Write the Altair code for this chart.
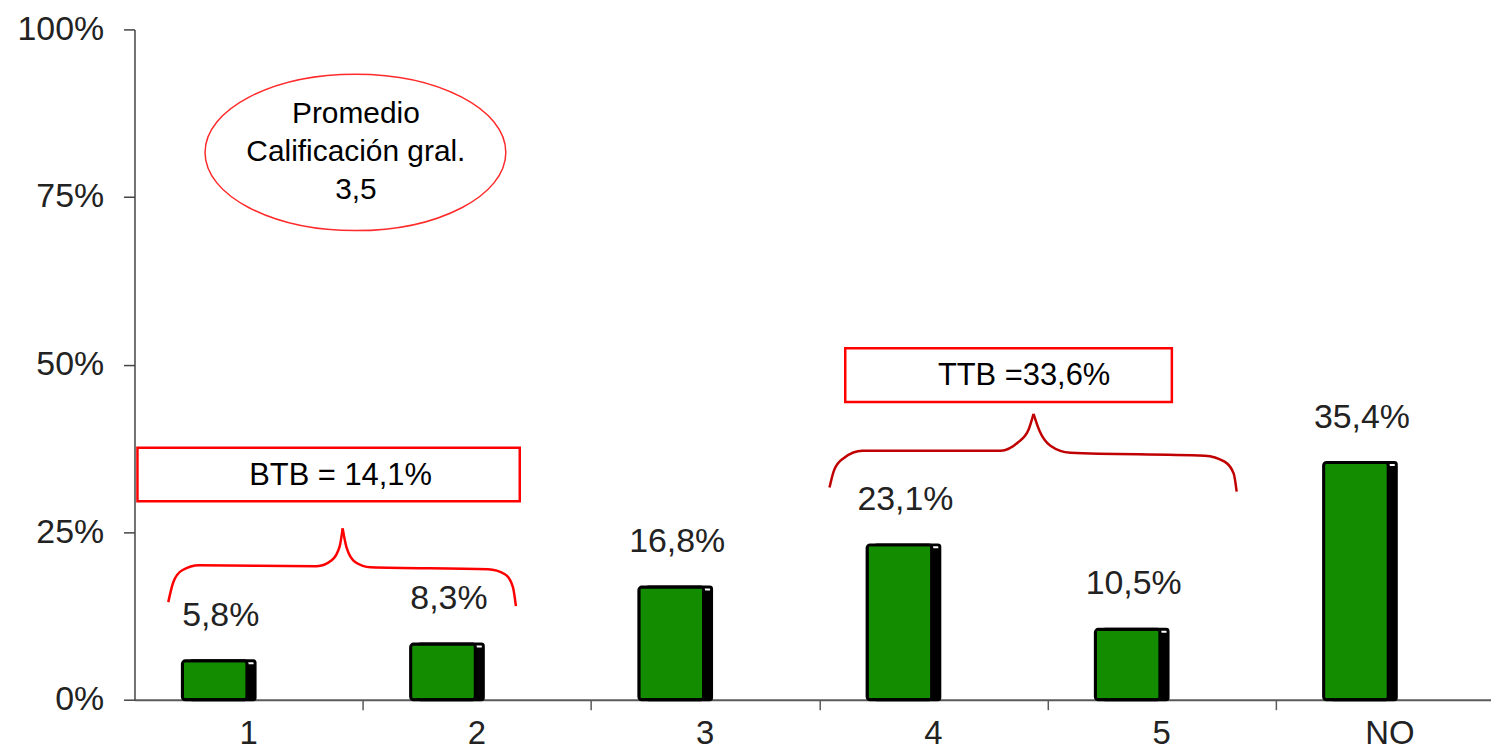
import altair as alt
import pandas as pd

# ---- data ----
categories = ["1", "2", "3", "4", "5", "NO"]
values = [0.058, 0.083, 0.168, 0.231, 0.105, 0.354]

# annotation coordinates: x in band units (0..6), y in share (0..1)
ellipse_x = [0.968]
ellipse_y = [0.8165]
ellipse_text_x = [0.970]
ellipse_text_y = [0.861]
ellipse_lines = ["Promedio", "Calificación gral.", "3,5"]

box_names = ["BTB", "TTB"]
box_x1 = [0.013, 3.114]
box_x2 = [1.688, 4.545]
box_y1 = [0.296, 0.444]
box_y2 = [0.376, 0.5245]
box_text = ["BTB = 14,1%", "TTB =33,6%"]
box_text_x = [0.903, 3.8975]
box_text_y = [0.321, 0.4695]

btb_left_x = [0.148, 0.170, 0.209, 0.284, 0.798, 0.864, 0.899, 0.912]
btb_left_y = [0.1456, 0.1753, 0.1932, 0.2006, 0.1991, 0.2080, 0.2288, 0.2556]
btb_right_x = [0.912, 0.929, 0.968, 1.034, 1.549, 1.623, 1.658, 1.671]
btb_right_y = [0.2556, 0.2273, 0.2051, 0.1976, 0.1947, 0.1872, 0.1679, 0.1397]
ttb_left_x = [3.045, 3.066, 3.110, 3.189, 3.795, 3.869, 3.917, 3.939]
ttb_left_y = [0.3165, 0.3432, 0.3611, 0.3715, 0.3715, 0.3834, 0.4027, 0.4264]
ttb_right_x = [3.939, 3.965, 4.013, 4.100, 4.689, 4.776, 4.816, 4.829]
ttb_right_y = [0.4264, 0.4012, 0.3789, 0.3685, 0.3640, 0.3551, 0.3373, 0.3105]

tick_positions = [1, 2, 3, 4, 5]

FONT = "Liberation Sans"
BAR_W = 65
X_RANGE = [0, 1375]

bars_df = pd.DataFrame({"cat": categories, "value": values})

# shared axis / scale definitions (identical in every layer so they merge)
x_nom_scale = alt.Scale(domain=categories, range=X_RANGE, paddingInner=0, paddingOuter=0)
x_nom_axis = alt.Axis(title=None, labelAngle=0, ticks=False, labelPadding=18,
                      labelFontSize=33, labelFont=FONT, labelColor="#222222",
                      domainColor="#5a5a5a", domainWidth=2, grid=False)
x_nom = alt.X("cat:N", sort=categories, scale=x_nom_scale, axis=x_nom_axis)

y_scale = alt.Scale(domain=[0, 1], nice=False)
y_axis = alt.Axis(values=[0, 0.25, 0.5, 0.75, 1], format=".0%", grid=False,
                  tickSize=11, labelPadding=20, labelFontSize=34, labelFont=FONT,
                  labelColor="#222222", domainColor="#444444", tickColor="#444444",
                  domainWidth=1.5, tickWidth=1.5, title=None)


def yq(field):
    return alt.Y(field, scale=y_scale, axis=y_axis)


xq_scale = alt.Scale(domain=[0, 6], range=X_RANGE, nice=False, zero=False)
xq_axis = alt.Axis(orient="bottom", values=tick_positions, labels=False, domain=False,
                   grid=False, ticks=True, tickSize=10, tickColor="#5a5a5a",
                   tickWidth=1.5, title=None)


def xq(field):
    return alt.X(field, scale=xq_scale, axis=xq_axis)


base = alt.Chart(bars_df)
shadow = base.mark_bar(width=BAR_W, xOffset=-26, yOffset=5, color="black",
                       stroke="black", strokeWidth=3, cornerRadius=2).encode(
    x=x_nom, y=yq("value:Q"))
bars = base.mark_bar(width=BAR_W, xOffset=-34, color="#148c00", stroke="black",
                     strokeWidth=3, cornerRadius=3).encode(x=x_nom, y=yq("value:Q"))
labels = base.transform_calculate(
    label="replace(format(datum.value * 100, '.1f'), '.', ',') + '%'"
).mark_text(xOffset=-28, dy=-35, baseline="alphabetic", align="center", fontSize=34,
            font=FONT, color="#222222").encode(x=x_nom, y=yq("value:Q"), text="label:N")

bar_group = alt.layer(shadow, bars, labels)

# ---- annotations (continuous band-unit x) ----
ell_df = pd.DataFrame({"u": ellipse_x, "value": ellipse_y})
ELLIPSE_PATH = ("M -1 0 C -1 -0.2872 -0.5523 -0.52 0 -0.52 C 0.5523 -0.52 1 -0.2872 1 0 "
                "C 1 0.2872 0.5523 0.52 0 0.52 C -0.5523 0.52 -1 0.2872 -1 0 Z")
ellipse = alt.Chart(ell_df).mark_point(shape=ELLIPSE_PATH, size=302 * 302, filled=False,
                                       fill="white", fillOpacity=1, stroke="#ff2a2a",
                                       strokeWidth=1.5, opacity=1).encode(
    x=xq("u:Q"), y=yq("value:Q"))

ell_text_df = pd.DataFrame({"u": ellipse_text_x, "value": ellipse_text_y})
ell_text = alt.Chart(ell_text_df).mark_text(
    text=ellipse_lines, fontSize=30, font=FONT, color="black", align="center",
    baseline="alphabetic", lineHeight=38.5).encode(x=xq("u:Q"), y=yq("value:Q"))

box_df = pd.DataFrame({"name": box_names, "u1": box_x1, "u2": box_x2,
                       "value": box_y1, "v2": box_y2})
boxes = alt.Chart(box_df).mark_rect(fill="white", stroke="#ff0000", strokeWidth=2.5).encode(
    x=xq("u1:Q"), x2="u2:Q", y=yq("value:Q"), y2="v2:Q")

box_text_df = pd.DataFrame({"u": box_text_x, "value": box_text_y, "t": box_text})
box_texts = alt.Chart(box_text_df).mark_text(fontSize=31, font=FONT, color="black",
                                             align="center", baseline="alphabetic").encode(
    x=xq("u:Q"), y=yq("value:Q"), text="t:N")

brace_rows = []
for name, xs, ys, col in [("btb_l", btb_left_x, btb_left_y, "#ff0000"),
                          ("btb_r", btb_right_x, btb_right_y, "#ff0000"),
                          ("ttb_l", ttb_left_x, ttb_left_y, "#c00000"),
                          ("ttb_r", ttb_right_x, ttb_right_y, "#c00000")]:
    for xv, yv in zip(xs, ys):
        brace_rows.append({"seg": name, "u": xv, "value": yv, "col": col})
brace_df = pd.DataFrame(brace_rows)
braces = alt.Chart(brace_df).mark_line(interpolate="monotone", strokeWidth=2.5).encode(
    x=xq("u:Q"), y=yq("value:Q"),
    detail="seg:N",
    color=alt.Color("col:N", scale=None),
    order="u:Q")

annot_group = alt.layer(ellipse, ell_text, boxes, box_texts, braces)

chart = alt.layer(bar_group, annot_group).resolve_scale(x="independent").properties(
    width=1362, height=673,
    padding={"left": 127, "top": 20, "right": 0, "bottom": 52},
    autosize=alt.AutoSizeParams(type="none"),
    background="white",
).configure(font=FONT).configure_view(strokeWidth=0, stroke="transparent")

chart.save("out.html", embed_options={"renderer": "svg", "actions": False})
